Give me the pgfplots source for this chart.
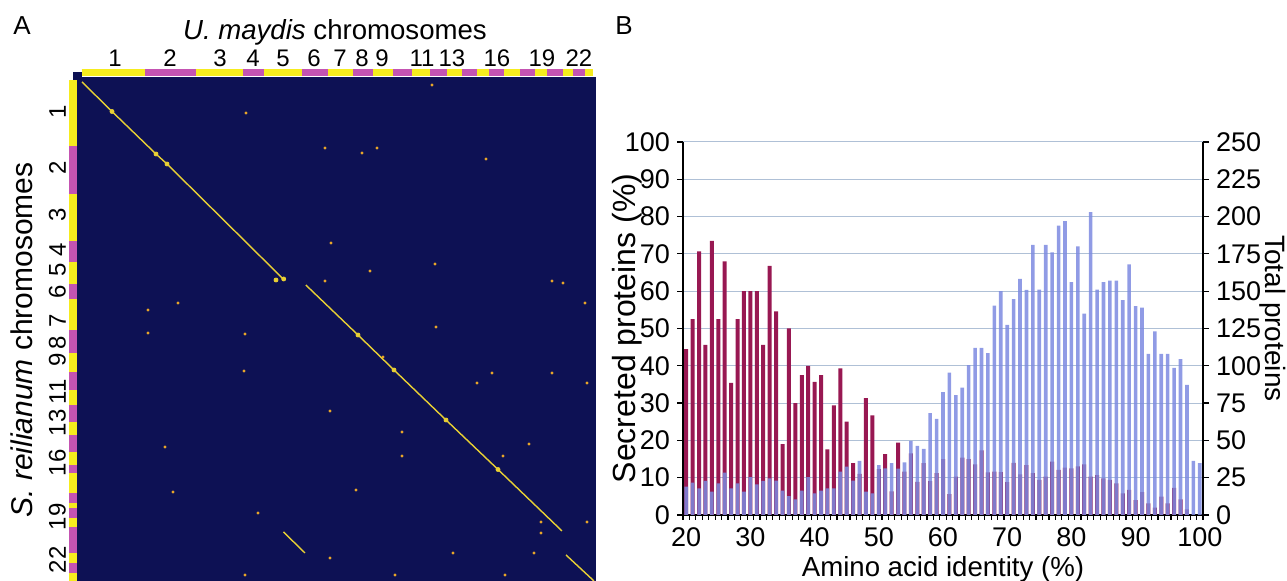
\documentclass[border=0pt]{standalone}
\usepackage{fontspec}
\setmainfont{Liberation Sans}
\usepackage{pgfplots}
\usepackage{pgfplotstable}
\pgfplotsset{compat=1.18}
\pgfplotsset{/pgf/number format/assume math mode=true}

\definecolor{navy}{RGB}{13,17,84}
\definecolor{chrY}{RGB}{246,236,30}
\definecolor{chrM}{RGB}{196,84,178}
\definecolor{synt}{RGB}{232,208,52}
\definecolor{dotc}{RGB}{238,170,40}
\definecolor{secr}{RGB}{152,24,82}
\definecolor{totl}{RGB}{124,138,224}
\definecolor{gridc}{RGB}{175,192,214}

% identity (%), secreted proteins (%), total proteins (count)
\pgfplotstableread{
x sec tot
20 44.5 19
21 52.5 21.7
22 70.7 17.9
23 45.6 22.8
24 73.5 15.7
25 52.5 21.2
26 68 28.4
27 35.4 17.9
28 52.5 21.2
29 60 15.7
30 60 25.3
31 60 20.6
32 45.6 22.8
33 66.8 24.6
34 54.6 23
35 19 16.3
36 50 12.7
37 30 10.5
38 37.5 16.3
39 40 25.3
40 35.7 14.5
41 37.5 16.3
42 17.6 17.9
43 29.4 17.9
44 39.3 29
45 25 32.4
46 13.9 23
47 11 36.2
48 31.3 15.7
49 26.7 14.5
50 12.3 33.5
51 16.3 31.3
52 6.3 34.7
53 19.4 31
54 11.6 35.3
55 16.5 49.6
56 8.9 46.3
57 13.9 44.3
58 9.1 68.2
59 11.2 64.4
60 15 82.3
61 5.6 95.5
62 10.3 80.3
63 15.4 85.4
64 15 100.4
65 13.6 112
66 17.3 112
67 11.4 108.5
68 11.6 140.4
69 11.5 150
70 8.8 127.5
71 14 144.7
72 10.9 158.3
73 13.4 150.9
74 11.2 181
75 9.4 151
76 10.3 181
77 14.3 176
78 12.1 194
79 12.7 197
80 12.5 156
81 13 180
82 13.6 135
83 10.3 203
84 10.7 151
85 9.8 156
86 9.4 157
87 8.5 157
88 5.8 144
89 6.7 168
90 4 140
91 6.1 139
92 3.1 108
93 2 123
94 4.9 108
95 3.1 108
96 7.3 98.6
97 4.2 104.4
98 1.5 87.2
99 0 36.2
100 0 34.7
}\tabB

\begin{document}
\begin{tikzpicture}[x=1pt,y=1pt]
\useasboundingbox (0,0) rectangle (643.5,290.5);

\node[anchor=base west, inner sep=0, font=\fontsize{13}{15}\selectfont] at (6.5,273) {A};
\node[anchor=base west, inner sep=0, font=\fontsize{13}{15}\selectfont] at (307.5,273) {B};

% ---- panel A: dot plot
\begin{axis}[at={(38.5pt,0pt)}, anchor=south west, scale only axis,
  width=259.5pt, height=252pt,
  xmin=-4.7, xmax=514.3, ymin=-501, ymax=3, clip=false,
  axis line style={draw=none}, tick style={draw=none},
  axis background/.style={fill=navy},
  xtick={33.3,88.3,138.3,171.3,201.3,232.3,258.3,280.3,300.3,340.3,370.3,415.3,460.3,497.3},
  xticklabels={1,2,3,4,5,6,7,8,9,11,13,16,19,22},
  xticklabel pos=right, xticklabel shift=1.5pt,
  ytick={-480,-437,-383,-343,-312,-280,-263,-241,-212,-190,-170,-135,-88,-32},
  yticklabels={22,19,16,13,11,9,8,7,6,5,4,3,2,1},
  yticklabel style={rotate=90, anchor=south}, yticklabel shift=2pt,
  every tick label/.append style={font=\fontsize{12}{14}\selectfont},
]
% chromosome bars
\addplot[chrM, line width=3.6pt] coordinates {(0,7.1)(511.3,7.1)};
\addplot[chrY, line width=3.6pt, unbounded coords=jump] coordinates {
 (0,7.1)(63.3,7.1)(nan,7.1)(114.3,7.1)(161.3,7.1)(nan,7.1)(182.6,7.1)(220.3,7.1)(nan,7.1)
 (246.3,7.1)(271.3,7.1)(nan,7.1)(291.3,7.1)(311.3,7.1)(nan,7.1)(330.3,7.1)(348.3,7.1)(nan,7.1)
 (365.3,7.1)(380.3,7.1)(nan,7.1)(395.3,7.1)(407.3,7.1)(nan,7.1)(422.3,7.1)(438.3,7.1)(nan,7.1)
 (453.3,7.1)(465.3,7.1)(nan,7.1)(481.3,7.1)(491.3,7.1)(nan,7.1)(503.3,7.1)(511.3,7.1)};
\addplot[chrM, line width=3.75pt] coordinates {(-8.95,0)(-8.95,-501)};
\addplot[chrY, line width=3.75pt, unbounded coords=jump] coordinates {
 (-8.95,0)(-8.95,-66)(-8.95,nan)(-8.95,-114)(-8.95,-161)(-8.95,nan)(-8.95,-182)(-8.95,-204)(-8.95,nan)
 (-8.95,-219)(-8.95,-250)(-8.95,nan)(-8.95,-273)(-8.95,-292)(-8.95,nan)(-8.95,-310)(-8.95,-325)(-8.95,nan)
 (-8.95,-342)(-8.95,-355)(-8.95,nan)(-8.95,-372)(-8.95,-385)(-8.95,nan)(-8.95,-393)(-8.95,-413)(-8.95,nan)
 (-8.95,-423)(-8.95,-428)(-8.95,nan)(-8.95,-438)(-8.95,-447)(-8.95,nan)(-8.95,-473)(-8.95,-483)(-8.95,nan)
 (-8.95,-493)(-8.95,-501)};
\addplot[fill=navy, draw=none] coordinates {(-9,8.3)(0,8.3)(0,0)(-9,0)} --cycle;
% syntenic stretches
\addplot[synt, line width=0.7pt] coordinates {(0.3,-2)(30.3,-31.5)(74.3,-74)(85.3,-84)(150,-148)(201.8,-199.3)};
\addplot[synt, line width=0.7pt] coordinates {(224.1,-205)(276.3,-255)(312.3,-290)(364.3,-340)(416.3,-389.5)(480.3,-451)};
\addplot[synt, line width=0.7pt] coordinates {(201.8,-452)(223.3,-473)};
\addplot[synt, line width=0.7pt] coordinates {(484.3,-475)(512.3,-501)};
\addplot[only marks, mark=*, mark size=1pt, synt] coordinates {
 (30.3,-31.5)(74.3,-74)(85.3,-84)(194.3,-200)(202,-199)(276.3,-255)(312.3,-290)(364.3,-340)(416.3,-389.5)};
\addplot[only marks, mark=*, mark size=0.55pt, dotc] coordinates {
 (350.3,-5)(164.3,-33)(243.3,-68)(280.3,-73)(295.3,-68)(404.3,-79)(249.3,-163)(288.3,-191)
 (353.3,-184)(243.3,-201)(470.3,-201)(481.3,-203)(503.3,-223)(96.3,-223)(66.3,-230)(66.3,-253)
 (163.3,-254)(354.3,-247)(301.3,-277)(162.3,-291)(410.3,-293)(395.3,-303)(470.3,-293)(505.3,-303)
 (248.3,-331)(320.3,-352)(83.3,-367)(320.3,-376)(447.3,-364)(421.3,-376)(91.3,-412)(274.3,-410)
 (176.3,-433)(459.3,-442)(505.3,-442)(459.3,-453)(248.3,-478)(371.3,-473)(452.3,-473)(163.3,-495)
 (313.3,-495)(423.3,-495)};
\node[anchor=base, yshift=18.5pt, font=\fontsize{13.8}{16}\selectfont]
  at (axis description cs:0.497,1) {\textit{U. maydis} chromosomes};
\node[rotate=90, anchor=base, font=\fontsize{15}{18}\selectfont]
  at (axis description cs:-0.0848,0.478) {\textit{S. reilianum} chromosomes};
\end{axis}

% ---- panel B: left axis, secreted proteins
\begin{axis}[at={(341.5pt,33pt)}, anchor=south west, scale only axis,
  width=260pt, height=186.5pt,
  xmin=19.5, xmax=100.5, ymin=0, ymax=100, clip=false,
  axis x line*=bottom, axis y line*=left,
  axis line style={black, line width=0.8pt},
  xtick={20,30,...,100}, ytick={0,10,...,100},
  minor xtick={19.5,20.5,...,100.5},
  major x tick style={draw=none},
  ymajorgrids, grid style={gridc, line width=0.5pt},
  tick align=outside, major tick length=3pt, minor tick length=2.5pt,
  tick style={black, line width=0.6pt},
  every tick label/.append style={font=\fontsize{13.5}{16}\selectfont},
]
\addplot[ybar, bar width=2pt, fill=secr, draw=none] table[x=x, y=sec] {\tabB};
\node[anchor=base, yshift=-31pt, font=\fontsize{13.8}{16}\selectfont]
  at (axis description cs:0.5,0) {Amino acid identity (\%)};
\node[rotate=90, anchor=base, font=\fontsize{16}{18}\selectfont]
  at ([xshift=-24pt]axis description cs:0,0.5) {Secreted proteins (\%)};
\end{axis}

% ---- panel B: right axis, total proteins
\begin{axis}[at={(341.5pt,33pt)}, anchor=south west, scale only axis,
  width=260pt, height=186.5pt,
  xmin=19.5, xmax=100.5, ymin=0, ymax=250, clip=false,
  axis x line=none, axis y line*=right,
  axis line style={black, line width=0.8pt},
  ytick={0,25,...,250},
  tick align=outside, major tick length=3pt,
  tick style={black, line width=0.6pt},
  every tick label/.append style={font=\fontsize{13.5}{16}\selectfont},
]
\addplot[ybar, bar width=1.8pt, fill=totl, fill opacity=0.85, draw=none] table[x=x, y=tot] {\tabB};
\node[rotate=-90, anchor=base, font=\fontsize{14}{16}\selectfont]
  at ([xshift=31pt]axis description cs:1,0.527) {Total proteins};
\end{axis}
\end{tikzpicture}
\end{document}
